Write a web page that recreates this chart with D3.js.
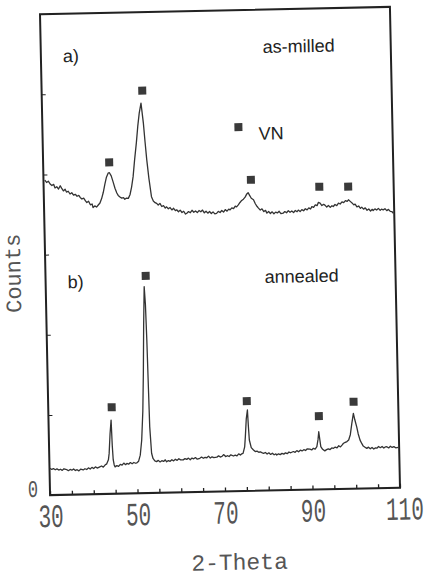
<!DOCTYPE html>
<html>
<head>
<meta charset="utf-8">
<script src="https://cdn.jsdelivr.net/npm/d3@7"></script>
<style>
  body { margin: 0; background: #fff; }
  .axis path, .axis line { stroke: #222; }
  .lbl { font-family: "Liberation Sans", Arial, sans-serif; fill: #222; }
  .mono { font-family: "Liberation Mono", "DejaVu Sans Mono", monospace; fill: #555; }
</style>
</head>
<body>
<svg width="429" height="581"></svg>
<script>
// trace a) as-milled  (2-theta, counts read off the scan)
var aTheta = [30.3,30.7,31.1,31.5,31.9,32.3,32.6,33.0,33.4,33.8,34.1,34.5,34.9,35.2,35.6,36.0,36.4,36.8,37.2,37.6,
  38.0,38.3,38.7,39.1,39.5,39.8,40.2,40.6,41.0,41.2,41.6,42.0,42.4,42.8,43.2,43.6,44.0,44.4,44.8,45.1,
  45.5,45.9,46.3,46.7,47.0,47.4,47.8,48.2,48.5,48.9,49.3,49.7,50.1,50.5,50.9,51.4,51.8,52.2,52.65,53.1,
  53.4,53.7,54.1,54.6,55.0,55.4,55.75,56.1,56.5,56.9,57.3,57.7,58.0,58.4,58.8,59.2,59.6,60.0,60.3,60.7,
  61.1,61.5,61.9,62.3,62.6,63.0,63.4,63.8,64.2,64.6,65.0,65.4,65.8,66.2,66.6,67.0,67.4,67.8,68.2,68.6,
  69.0,69.4,69.8,70.2,70.6,71.0,71.4,71.8,72.2,72.5,72.9,73.3,73.7,74.0,74.4,74.8,75.2,75.6,76.0,76.4,
  76.7,77.0,77.4,77.9,78.3,78.7,79.0,79.4,79.8,80.2,80.6,80.9,81.3,81.7,82.1,82.5,82.9,83.3,83.7,84.1,
  84.6,85.0,85.4,85.8,86.2,86.6,87.0,87.4,87.8,88.1,88.5,88.9,89.3,89.7,90.1,90.5,90.9,91.2,91.6,92.0,
  92.4,92.7,93.1,93.5,93.9,94.2,94.6,95.0,95.4,95.8,96.1,96.5,96.9,97.3,97.7,98.1,98.5,98.9,99.3,99.6,
  100.0,100.4,100.8,101.1,101.5,101.9,102.3,102.6,103.0,103.4,103.8,104.2,104.6,105.0,105.2,105.6,106.0,106.4,106.8,107.1,
  107.5,107.9,108.3,108.7,109.1,109.5,109.8];
var aCounts = [786,780,783,776,772,775,766,769,763,771,765,758,762,755,757,750,753,747,749,744,
  746,741,737,739,732,728,731,722,724,715,719,716,721,726,737,752,772,790,800,801,
  793,778,762,750,744,740,737,738,734,737,736,745,764,790,830,874,915,948,973,923,
  875,831,785,739,728,724,722,718,722,714,716,710,713,708,711,705,709,703,705,700,
  704,698,701,694,696,700,697,703,698,701,697,702,699,703,696,700,695,699,694,698,
  693,694,699,696,701,697,703,699,704,702,707,705,711,709,714,720,725,728,733,741,
  744,738,730,726,716,709,705,700,703,696,699,692,696,691,695,690,694,692,696,690,
  691,695,692,697,693,696,692,697,694,698,694,699,696,701,698,703,700,706,704,710,
  708,716,714,708,711,709,704,708,703,707,705,710,707,713,711,716,714,719,717,721,
  717,713,708,710,703,705,699,702,697,700,694,697,692,696,693,697,694,698,693,696,
  694,697,692,695,690,689,685];

// trace b) annealed
var bTheta = [30.1,30.5,30.9,31.3,31.7,32.1,32.5,32.9,33.3,33.9,34.3,34.7,35.1,35.5,35.9,36.3,36.7,37.1,37.7,38.1,
  38.5,38.9,39.3,39.7,40.1,40.5,40.9,41.5,41.9,42.3,42.7,43.1,43.5,43.7,44.0,44.3,44.45,44.6,44.8,45.0,
  45.4,45.8,46.2,46.6,47.0,47.4,47.7,48.1,48.5,48.9,49.3,49.7,50.0,50.4,50.8,51.2,51.6,51.9,52.2,52.5,
  52.7,52.85,53.0,53.1,53.4,53.7,54.1,54.5,54.9,55.3,55.7,56.1,56.5,56.8,57.2,57.6,58.0,58.4,58.8,59.2,
  59.6,60.0,60.6,61.0,61.4,61.8,62.2,62.6,63.0,63.4,63.8,64.4,64.8,65.2,65.6,66.0,66.4,66.8,67.2,67.6,
  68.3,68.7,69.1,69.5,69.9,70.3,70.7,71.1,71.5,72.1,72.5,72.9,73.3,73.7,74.0,74.3,74.7,74.9,75.2,75.5,
  75.65,75.8,76.2,76.7,77.1,77.5,77.9,78.3,78.7,79.0,79.4,79.8,80.2,80.6,81.0,81.4,81.8,82.0,82.4,82.8,
  83.2,83.6,84.0,84.4,84.8,85.2,85.8,86.2,86.6,87.0,87.4,87.8,88.2,88.6,89.0,89.6,90.0,90.4,90.8,91.2,
  91.5,91.7,91.9,92.1,92.5,93.0,93.4,93.8,94.2,94.6,95.0,95.4,95.8,96.2,96.6,97.0,97.3,97.7,98.1,98.5,
  98.9,99.3,99.7,100.0,100.4,100.7,101.1,101.5,101.8,102.2,102.6,103.0,103.4,103.8,104.2,104.6,104.9,105.3,105.7,106.1,
  106.5,106.9,107.2,107.6,108.0,108.4,108.8,109.2,109.8];
var bCounts = [67,64,66,63,65,62,64,61,65,63,60,63,61,64,60,62,59,63,61,64,
  62,66,63,67,64,68,65,68,70,67,72,75,85,101,150,184,120,85,72,67,
  70,68,73,71,76,72,75,73,77,74,77,75,76,80,95,132,205,299,420,515,
  470,382,250,165,99,86,80,78,81,77,80,78,82,77,80,78,82,79,83,80,
  84,81,81,84,82,85,81,85,83,86,82,84,87,84,86,85,89,84,87,85,
  86,89,86,88,92,87,89,87,91,88,90,88,93,90,93,94,110,135,180,202,
  160,127,108,102,98,99,96,97,94,93,95,91,94,90,93,89,91,88,91,89,
  92,90,93,91,95,93,96,94,98,95,99,97,100,98,102,101,99,103,101,107,
  125,144,125,107,100,96,99,101,99,103,102,105,103,108,105,110,114,116,118,122,
  135,163,188,172,154,137,121,112,106,103,100,103,99,102,98,101,100,104,101,104,
  100,103,103,100,104,101,103,100,101];

// VN peak markers
var aMarkTheta = [45.1, 53.0, 77.4, 93.0, 99.6];
var aMarkCounts = [827, 1004, 776, 755, 754];
var bMarkTheta = [44.5, 52.9, 75.4, 91.8, 99.8];
var bMarkCounts = [216, 542, 224, 183, 217];
var keyMark = {theta: 74.8, counts: 908, label: "VN"};

var xTicksMajor = [30, 50, 70, 90, 110];
var xTicksMinor = d3.range(30, 111, 5);
var yTicksMinor = [200, 400, 600, 800, 1000];

var svg = d3.select("svg");
// the scan is slightly tilted
var g = svg.append("g").attr("transform", "rotate(-1.2,220,251)");

var x = d3.scaleLinear().domain([30, 110]).range([45, 395]);
var y = d3.scaleLinear().domain([0, 1200]).range([491.5, 10.5]);

// frame
g.append("rect")
  .attr("x", 45).attr("y", 10.5)
  .attr("width", 350).attr("height", 481)
  .attr("fill", "none").attr("stroke", "#222").attr("stroke-width", 2);

// bottom ticks (inward)
g.append("g").attr("class", "axis")
  .attr("transform", "translate(0,491.5)")
  .call(d3.axisBottom(x).tickValues(xTicksMinor).tickSize(-4).tickFormat(""))
  .call(function(s){ s.select(".domain").remove(); s.selectAll("line").attr("stroke-width", 1.3); });

// tick labels: tall narrow plotter digits
var xl = g.append("g").attr("class", "axis")
  .attr("transform", "translate(0,491.5)")
  .call(d3.axisBottom(x).tickValues(xTicksMajor).tickSize(0).tickFormat(d3.format("d")));
xl.select(".domain").remove();
xl.selectAll("text")
  .attr("class", "mono")
  .attr("y", 0).attr("dy", 0)
  .attr("transform", function(d){ return "translate(" + (d >= 100 ? 4 : 0) + ",32) scale(1,1.55)"; })
  .style("font-size", "21px");

// left ticks
g.append("g").attr("class", "axis")
  .attr("transform", "translate(45,0)")
  .call(d3.axisLeft(y).tickValues(yTicksMinor).tickSize(-4).tickFormat(""))
  .call(function(s){ s.select(".domain").remove(); s.selectAll("line").attr("stroke-width", 1); });

g.append("text").attr("class", "mono")
  .attr("text-anchor", "middle")
  .attr("transform", "translate(28,493) scale(1,1.4)")
  .style("font-size", "17px")
  .text("0");

g.append("text").attr("class", "mono")
  .attr("x", 233).attr("y", 570).attr("text-anchor", "middle")
  .style("font-size", "23px")
  .text("2-Theta");

g.append("text").attr("class", "mono")
  .attr("transform", "translate(20,269) rotate(-90)")
  .attr("text-anchor", "middle")
  .style("font-size", "22px")
  .text("Counts");

// traces
var line = d3.line()
  .x(function(d){ return x(d[0]); })
  .y(function(d){ return y(d[1]); });

[[aTheta, aCounts], [bTheta, bCounts]].forEach(function(s) {
  g.append("path")
    .datum(d3.zip(s[0], s[1]))
    .attr("d", line)
    .attr("fill", "none")
    .attr("stroke", "#333")
    .attr("stroke-width", 1.3)
    .attr("stroke-linejoin", "round");
});

// markers
var marks = d3.zip(aMarkTheta, aMarkCounts)
  .concat(d3.zip(bMarkTheta, bMarkCounts))
  .concat([[keyMark.theta, keyMark.counts]]);
var ms = 8;
g.selectAll("rect.mark")
  .data(marks)
  .enter().append("rect")
  .attr("class", "mark")
  .attr("x", function(d){ return x(d[0]) - ms / 2; })
  .attr("y", function(d){ return y(d[1]) - ms / 2; })
  .attr("width", ms).attr("height", ms)
  .attr("fill", "#3a3a3a");

// labels
function label(tx, ty, t) {
  g.append("text").attr("class", "lbl")
    .attr("x", tx).attr("y", ty)
    .style("font-size", "18px")
    .text(t);
}
label(67, 59, "a)");
label(267, 54, "as-milled");
label(x(keyMark.theta) + 20, y(keyMark.counts) + 13, keyMark.label);
label(67, 285, "b)");
label(264, 284, "annealed");
</script>
</body>
</html>
